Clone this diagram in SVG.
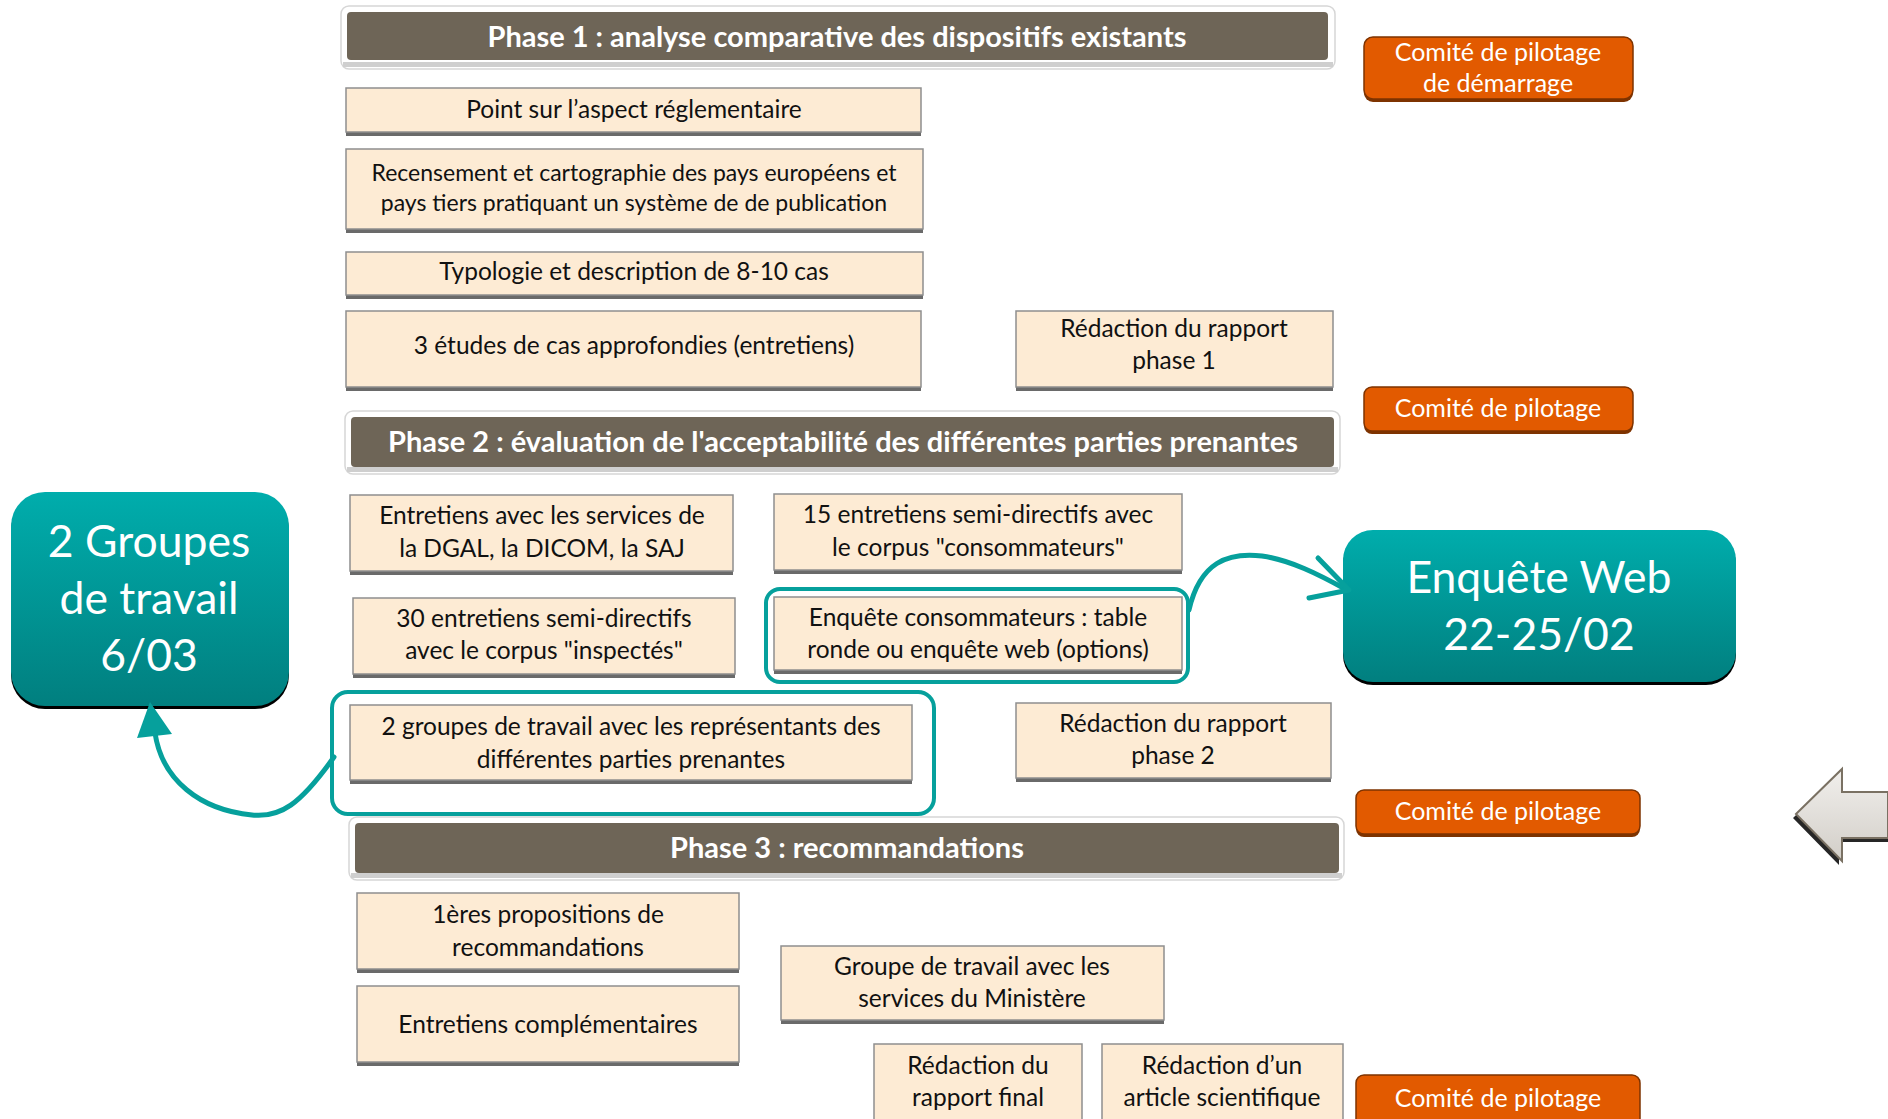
<svg xmlns="http://www.w3.org/2000/svg" width="1888" height="1119" viewBox="0 0 1888 1119">
<defs>
<linearGradient id="teal" x1="0" y1="0" x2="0" y2="1">
<stop offset="0" stop-color="#00ADAC"/>
<stop offset="1" stop-color="#017F7F"/>
</linearGradient>
<linearGradient id="grey" x1="0" y1="0" x2="0" y2="1">
<stop offset="0" stop-color="#F1EFEC"/>
<stop offset="1" stop-color="#D2CEC8"/>
</linearGradient>
<style>
text{font-family:Lato,"Liberation Sans",sans-serif;text-anchor:middle}
.box{fill:#FDEBD4;stroke:#8E8E8E;stroke-width:1.5}
.bsh{fill:#6A6A6A}
.bt{font-size:24.5px;fill:#111}
.bs{font-size:23px}
.ph{fill:#6E6557}
.phg{fill:#FFFFFF;stroke:#D6D6D6;stroke-width:1.5}
.pt{font-size:29px;font-weight:bold;fill:#FFFFFF}
.co{fill:#E25A00;stroke:#7E3300;stroke-width:1.5}
.csh{fill:#7E3300}
.ct{font-size:25px;fill:#FFFFFF}
.tb{fill:url(#teal)}
.tsh{fill:#000000}
.tt{font-size:44.5px;fill:#FFFFFF}
.hl{fill:none;stroke:#06A09C;stroke-width:4}
.cn{fill:none;stroke:#06A09C;stroke-width:5;stroke-linecap:round;stroke-linejoin:round}
</style>
</defs>

<g id="phase1">
<rect class="phg" x="341" y="6" width="994" height="63" rx="8"/>
<rect x="343" y="62" width="990" height="5" fill="#CFCFCF"/>
<rect class="ph" x="347" y="12" width="981" height="48" rx="4"/>
<text class="pt" x="837" y="47">Phase 1 : analyse comparative des dispositifs existants</text>
</g>
<g id="phase2">
<rect class="phg" x="345" y="411" width="995" height="63" rx="8"/>
<rect x="347" y="467" width="991" height="5" fill="#CFCFCF"/>
<rect class="ph" x="351" y="417" width="983" height="50" rx="4"/>
<text class="pt" x="843" y="452">Phase 2 : évaluation de l'acceptabilité des différentes parties prenantes</text>
</g>
<g id="phase3">
<rect class="phg" x="349" y="817" width="995" height="63" rx="8"/>
<rect x="351" y="873" width="991" height="5" fill="#CFCFCF"/>
<rect class="ph" x="355" y="823" width="984" height="50" rx="4"/>
<text class="pt" x="847" y="858">Phase 3 : recommandations</text>
</g>

<g id="b1"><rect class="bsh" x="346" y="91" width="575" height="45"/><rect class="box" x="346" y="88" width="575" height="44"/>
<text class="bt" x="634" y="118">Point sur l’aspect réglementaire</text></g>
<g id="b2"><rect class="bsh" x="346" y="152" width="577" height="81"/><rect class="box" x="346" y="149" width="577" height="80"/>
<text class="bt bs" x="634" y="181">Recensement et cartographie des pays européens et</text>
<text class="bt bs" x="634" y="211">pays tiers pratiquant un système de de publication</text></g>
<g id="b3"><rect class="bsh" x="346" y="255" width="577" height="44"/><rect class="box" x="346" y="252" width="577" height="43"/>
<text class="bt" x="634" y="280">Typologie et description de 8-10 cas</text></g>
<g id="b4"><rect class="bsh" x="346" y="314" width="575" height="77"/><rect class="box" x="346" y="311" width="575" height="76"/>
<text class="bt" x="634" y="354">3 études de cas approfondies (entretiens)</text></g>
<g id="b5"><rect class="bsh" x="1016" y="314" width="317" height="77"/><rect class="box" x="1016" y="311" width="317" height="76"/>
<text class="bt" x="1174" y="337">Rédaction du rapport</text>
<text class="bt" x="1174" y="369">phase 1</text></g>

<g id="b6"><rect class="bsh" x="350" y="498" width="383" height="77"/><rect class="box" x="350" y="495" width="383" height="76"/>
<text class="bt" x="542" y="524">Entretiens avec les services de</text>
<text class="bt" x="542" y="557">la DGAL, la DICOM, la SAJ</text></g>
<g id="b7"><rect class="bsh" x="774" y="497" width="408" height="77"/><rect class="box" x="774" y="494" width="408" height="76"/>
<text class="bt" x="978" y="523">15 entretiens semi-directifs avec</text>
<text class="bt" x="978" y="556">le corpus "consommateurs"</text></g>
<g id="b8"><rect class="bsh" x="353" y="601" width="382" height="77"/><rect class="box" x="353" y="598" width="382" height="76"/>
<text class="bt" x="544" y="627">30 entretiens semi-directifs</text>
<text class="bt" x="544" y="659">avec le corpus "inspectés"</text></g>
<g id="b9"><rect class="bsh" x="774" y="600" width="408" height="74"/><rect class="box" x="774" y="597" width="408" height="73"/>
<text class="bt" x="978" y="626">Enquête consommateurs : table</text>
<text class="bt" x="978" y="658">ronde ou enquête web (options)</text>
<rect class="hl" x="766" y="589" width="422" height="93" rx="14"/></g>
<g id="b10"><rect class="bsh" x="350" y="708" width="562" height="76"/><rect class="box" x="350" y="705" width="562" height="75"/>
<text class="bt" x="631" y="735">2 groupes de travail avec les représentants des</text>
<text class="bt" x="631" y="768">différentes parties prenantes</text>
<rect class="hl" x="332" y="692" width="602" height="122" rx="16"/></g>
<g id="b11"><rect class="bsh" x="1016" y="706" width="315" height="76"/><rect class="box" x="1016" y="703" width="315" height="75"/>
<text class="bt" x="1173" y="732">Rédaction du rapport</text>
<text class="bt" x="1173" y="764">phase 2</text></g>

<g id="b12"><rect class="bsh" x="357" y="896" width="382" height="77"/><rect class="box" x="357" y="893" width="382" height="76"/>
<text class="bt" x="548" y="923">1ères propositions de</text>
<text class="bt" x="548" y="956">recommandations</text></g>
<g id="b13"><rect class="bsh" x="357" y="989" width="382" height="77"/><rect class="box" x="357" y="986" width="382" height="76"/>
<text class="bt" x="548" y="1033">Entretiens complémentaires</text></g>
<g id="b14"><rect class="bsh" x="781" y="949" width="383" height="75"/><rect class="box" x="781" y="946" width="383" height="74"/>
<text class="bt" x="972" y="975">Groupe de travail avec les</text>
<text class="bt" x="972" y="1007">services du Ministère</text></g>
<g id="b15"><rect class="box" x="874" y="1044" width="208" height="85"/>
<text class="bt" x="978" y="1074">Rédaction du</text>
<text class="bt" x="978" y="1106">rapport final</text></g>
<g id="b16"><rect class="box" x="1102" y="1044" width="241" height="85"/>
<text class="bt" x="1222" y="1074">Rédaction d’un</text>
<text class="bt" x="1222" y="1106">article scientifique</text></g>

<g id="c1"><rect class="csh" x="1364" y="40" width="269" height="62" rx="9"/><rect class="co" x="1364" y="37" width="269" height="62" rx="9"/>
<text class="ct" x="1498" y="61">Comité de pilotage</text>
<text class="ct" x="1498" y="92">de démarrage</text></g>
<g id="c2"><rect class="csh" x="1364" y="390" width="269" height="44" rx="8"/><rect class="co" x="1364" y="387" width="269" height="44" rx="8"/>
<text class="ct" x="1498" y="417">Comité de pilotage</text></g>
<g id="c3"><rect class="csh" x="1356" y="793" width="284" height="44" rx="8"/><rect class="co" x="1356" y="790" width="284" height="44" rx="8"/>
<text class="ct" x="1498" y="820">Comité de pilotage</text></g>
<g id="c4"><rect class="csh" x="1356" y="1078" width="284" height="60" rx="8"/><rect class="co" x="1356" y="1075" width="284" height="60" rx="8"/>
<text class="ct" x="1498" y="1107">Comité de pilotage</text></g>

<g id="t1"><rect class="tsh" x="11" y="496" width="278" height="213" rx="34"/><rect class="tb" x="11" y="492" width="278" height="214" rx="34"/>
<text class="tt" x="149" y="557">2 Groupes</text>
<text class="tt" x="149" y="614">de travail</text>
<text class="tt" x="149" y="671">6/03</text></g>
<g id="t2"><rect class="tsh" x="1343" y="534" width="393" height="151" rx="30"/><rect class="tb" x="1343" y="530" width="393" height="152" rx="30"/>
<text class="tt" x="1539" y="593">Enquête Web</text>
<text class="tt" x="1539" y="650">22-25/02</text></g>

<g id="bigarrow">
<polygon points="1793,818 1839,773 1839,796 1888,796 1888,842 1839,842 1839,865" fill="#000" opacity="0.85"/>
<polygon points="1796,814 1842,769 1842,792 1888,792 1888,838 1842,838 1842,861" fill="url(#grey)" stroke="#7A7163" stroke-width="2"/>
</g>

<g id="connectors">
<path class="cn" d="M1189 610 C1200 562 1228 552 1262 556 C1290 560 1318 574 1347 590"/>
<polyline class="cn" points="1318,558 1349,590 1309,598"/>
<path class="cn" d="M334 757 C300 805 280 818 252 815 C200 810 162 780 155 733"/>
<polygon points="150,702 137,738 172,734" fill="#06A09C"/>
</g>
</svg>
